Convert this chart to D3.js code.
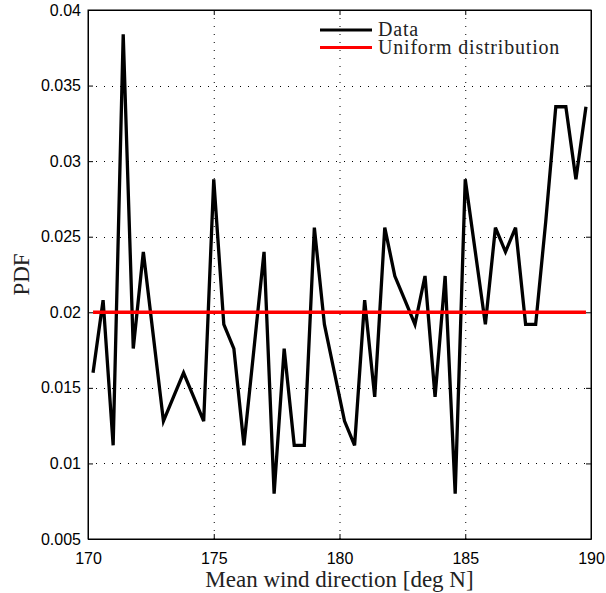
<!DOCTYPE html>
<html>
<head>
<meta charset="utf-8">
<script src="https://cdn.jsdelivr.net/npm/d3@7"></script>
<style>
    body { margin: 0; background: #fff; }
    .tick text { font-family: "Liberation Sans", Arial, sans-serif; font-size: 16px; fill: #000; }
    .axisLabel, .legendText { font-family: "Liberation Serif", "DejaVu Serif", serif; fill: #222; }
    .legendText { letter-spacing: 0.8px; }
</style>
</head>
<body>
<script>
//wrap everything in a self-executing anonymous function
(function () {

    //data: bin centres [deg N] and PDF values
    var direction = [170.2, 170.6, 171.0, 171.4, 171.8, 172.2, 172.6, 173.0, 173.4, 173.8,
        174.2, 174.6, 175.0, 175.4, 175.8, 176.2, 176.6, 177.0, 177.4, 177.8,
        178.2, 178.6, 179.0, 179.4, 179.8, 180.2, 180.6, 181.0, 181.4, 181.8,
        182.2, 182.6, 183.0, 183.4, 183.8, 184.2, 184.6, 185.0, 185.4, 185.8,
        186.2, 186.6, 187.0, 187.4, 187.8, 188.2, 188.6, 189.0, 189.4, 189.8];
    var pdf = [0.0160, 0.0208, 0.0112, 0.0384, 0.0176, 0.0240, 0.0184, 0.0128, 0.0144, 0.0160,
        0.0144, 0.0128, 0.0288, 0.0192, 0.0176, 0.0112, 0.0176, 0.0240, 0.0080, 0.0176,
        0.0112, 0.0112, 0.0256, 0.0192, 0.0160, 0.0128, 0.0112, 0.0208, 0.0144, 0.0256,
        0.0224, 0.0208, 0.0192, 0.0224, 0.0144, 0.0224, 0.0080, 0.0288, 0.0240, 0.0192,
        0.0256, 0.0240, 0.0256, 0.0192, 0.0192, 0.0260, 0.0336, 0.0336, 0.0288, 0.0336];
    var uniformX = [170.2, 189.8];
    var uniformPdf = [0.02, 0.02];

    var xTicks = [170, 175, 180, 185, 190];
    var yTicks = [0.005, 0.01, 0.015, 0.02, 0.025, 0.03, 0.035, 0.04];
    var seriesNames = ["Data", "Uniform distribution"];
    var seriesColors = ["#000000", "#ff0000"];

    //frame dimensions
    var width = 606,
        height = 593,
        margin = { top: 10, right: 15, bottom: 54, left: 88 },
        innerWidth = width - margin.left - margin.right,
        innerHeight = height - margin.top - margin.bottom;

    var svg = d3.select("body")
        .append("svg")
        .attr("width", width)
        .attr("height", height);

    var g = svg.append("g")
        .attr("transform", "translate(" + margin.left + "," + margin.top + ")");

    //scales
    var x = d3.scaleLinear().domain([170, 190]).range([0, innerWidth]);
    var y = d3.scaleLinear().domain([0.005, 0.04]).range([innerHeight, 0]);

    //dotted grid
    g.selectAll(".vgrid")
        .data(xTicks.slice(1, -1))
        .enter()
        .append("line")
        .attr("x1", function (d) { return x(d) + 0.5; })
        .attr("x2", function (d) { return x(d) + 0.5; })
        .attr("y1", 0)
        .attr("y2", innerHeight)
        .attr("stroke", "#000")
        .attr("stroke-width", 1)
        .attr("stroke-dasharray", "1,7");

    g.selectAll(".hgrid")
        .data(yTicks.slice(1, -1))
        .enter()
        .append("line")
        .attr("x1", 0)
        .attr("x2", innerWidth)
        .attr("y1", function (d) { return Math.round(y(d)) + 0.5; })
        .attr("y2", function (d) { return Math.round(y(d)) + 0.5; })
        .attr("stroke", "#000")
        .attr("stroke-width", 1)
        .attr("stroke-dasharray", "1,7");

    //axes with inward ticks
    var xAxis = d3.axisBottom(x)
        .tickValues(xTicks)
        .tickSizeInner(-5)
        .tickSizeOuter(0)
        .tickPadding(14)
        .tickFormat(d3.format("d"));

    var yAxis = d3.axisLeft(y)
        .tickValues(yTicks)
        .tickSizeInner(-5)
        .tickSizeOuter(0)
        .tickPadding(7)
        .tickFormat(function (d) { return d3.format("")(+d.toFixed(3)); });

    g.append("g")
        .attr("class", "axis")
        .attr("transform", "translate(0," + innerHeight + ")")
        .call(xAxis);

    g.append("g")
        .attr("class", "axis")
        .call(yAxis);

    //ticks on top and right edges
    g.append("g")
        .call(d3.axisTop(x).tickValues(xTicks).tickSizeInner(-5).tickSizeOuter(0).tickFormat(""));
    g.append("g")
        .attr("transform", "translate(" + innerWidth + ",0)")
        .call(d3.axisRight(y).tickValues(yTicks).tickSizeInner(-5).tickSizeOuter(0).tickFormat(""));

    //frame
    g.append("rect")
        .attr("width", innerWidth)
        .attr("height", innerHeight)
        .attr("fill", "none")
        .attr("stroke", "#000")
        .attr("stroke-width", 1);

    //lines
    var line = d3.line()
        .x(function (d) { return x(d[0]); })
        .y(function (d) { return y(d[1]); });

    g.append("path")
        .datum(d3.zip(direction, pdf))
        .attr("d", line)
        .attr("fill", "none")
        .attr("stroke", seriesColors[0])
        .attr("stroke-width", 3.3)
        .attr("stroke-linejoin", "miter");

    g.append("path")
        .datum(d3.zip(uniformX, uniformPdf))
        .attr("d", line)
        .attr("fill", "none")
        .attr("stroke", seriesColors[1])
        .attr("stroke-width", 3.5);

    //legend
    var legend = svg.append("g")
        .attr("transform", "translate(320,30)");

    seriesNames.forEach(function (name, i) {
        legend.append("line")
            .attr("x1", 0)
            .attr("x2", 52)
            .attr("y1", i * 17.5)
            .attr("y2", i * 17.5)
            .attr("stroke", seriesColors[i])
            .attr("stroke-width", 3);
        legend.append("text")
            .attr("class", "legendText")
            .attr("x", 58)
            .attr("y", i * 17.5 + 6)
            .attr("font-size", 20)
            .text(name);
    });

    //axis labels
    svg.append("text")
        .attr("class", "axisLabel")
        .attr("x", margin.left + innerWidth / 2)
        .attr("y", 587)
        .attr("text-anchor", "middle")
        .attr("font-size", 23)
        .text("Mean wind direction [deg N]");

    svg.append("text")
        .attr("class", "axisLabel")
        .attr("transform", "translate(29," + (margin.top + innerHeight / 2) + ") rotate(-90)")
        .attr("text-anchor", "middle")
        .attr("font-size", 23)
        .text("PDF");

})();
</script>
</body>
</html>
